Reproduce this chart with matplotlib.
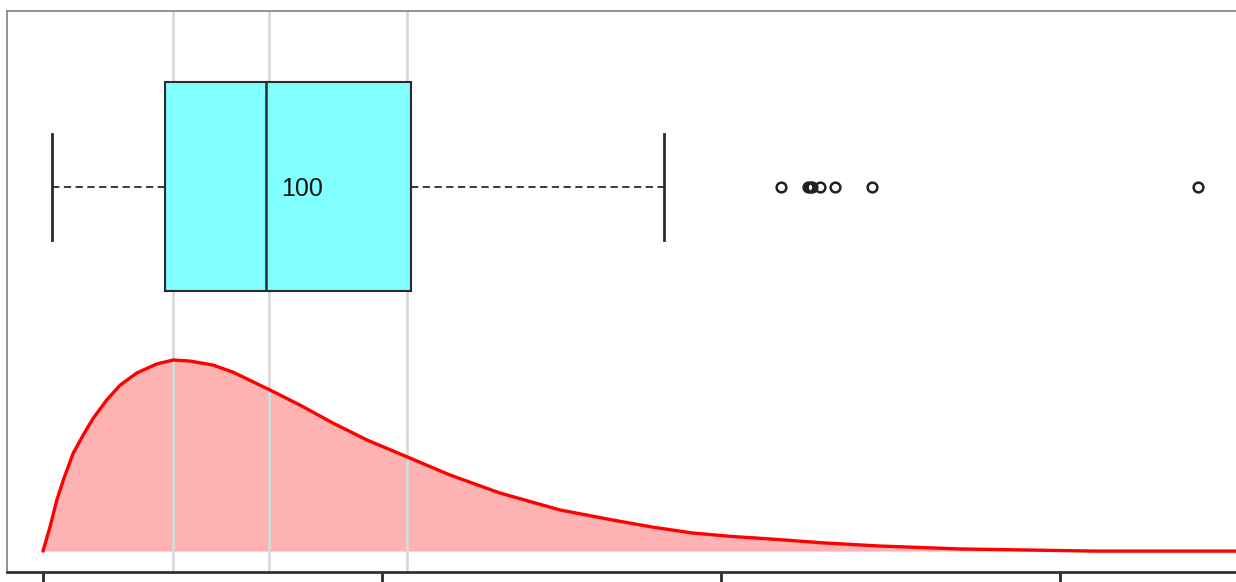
import matplotlib
matplotlib.use("Agg")
import matplotlib.pyplot as plt
import numpy as np

# ---- data ----
box_q1 = 54.0
box_median = 98.5
box_q3 = 163.0
whisker_low = 4.0
whisker_high = 275.0
outliers = [326.5, 338.5, 339.5, 340.5, 344.0, 350.5, 367.0, 511.0]
median_label = "100"

ref_lines = [57.5, 100.0, 161.0]

dens_x = [0, 3.1, 6.1, 9.0, 13.4, 17.8, 22.3, 28.2, 34.1, 41.5, 50.3, 57.7, 65.0,
          75.2, 84.1, 100.4, 113.7, 128.3, 143.4, 159.3, 180.1, 202.2, 228.8,
          252.2, 270.0, 287.6, 305.0, 323.0, 345.0, 370.4, 405.8, 464.6, 528.0]
dens_y = [0.0, 0.91, 1.92, 2.68, 3.70, 4.38, 5.02, 5.70, 6.26, 6.72, 7.06, 7.21,
          7.17, 7.02, 6.75, 6.08, 5.51, 4.83, 4.19, 3.62, 2.87, 2.19, 1.55, 1.17,
          0.90, 0.68, 0.55, 0.45, 0.31, 0.19, 0.08, 0.0, 0.0]  # density x 1e-3

xticks = [0, 150, 300, 450]

# ---- layout ----
W, H = 1236, 582
fig = plt.figure(figsize=(W / 100, H / 100), dpi=100)
ax = fig.add_axes([7 / W, 10 / H, 1243 / W, 561 / H])
ax.set_xlim(-15.93, 534.1)
ax.set_ylim(-0.79, 20.38)

# density fill
ax.fill_between(dens_x, 0, dens_y, color="red", alpha=0.3, lw=0, zorder=2)

# reference vertical lines (over the fill, under curve and box)
for v in ref_lines:
    ax.axvline(v, color="#d9d9d9", lw=2, zorder=2.5)

ax.plot(dens_x, dens_y, color="red", lw=2.4, zorder=3,
        solid_capstyle="round", solid_joinstyle="round")

# boxplot built from stats
center = 13.74
stats = [dict(med=box_median, q1=box_q1, q3=box_q3, whislo=whisker_low,
              whishi=whisker_high, fliers=outliers)]
bp = ax.bxp(stats, positions=[center], widths=7.89, vert=False, patch_artist=True,
            capwidths=4.0, manage_ticks=False,
            boxprops=dict(facecolor="#80ffff", edgecolor="#2b2b2b", linewidth=1.5),
            medianprops=dict(color="#2b2b2b", linewidth=1.8),
            whiskerprops=dict(color="#2b2b2b", linewidth=1.3, linestyle=(0, (4, 2.5))),
            capprops=dict(color="#2b2b2b", linewidth=2.0),
            flierprops=dict(marker="o", markerfacecolor="none", markeredgecolor="#222222",
                            markersize=7, markeredgewidth=1.8))
for b in bp["boxes"]:
    b.set_zorder(4)
for key in ["medians", "whiskers", "caps", "fliers"]:
    for art in bp[key]:
        art.set_zorder(5)

ax.text(box_median + 7, center - 0.08, median_label, fontsize=18,
        family=["Liberation Sans", "DejaVu Sans"], va="center", ha="left",
        color="#111111", zorder=6)

# axes styling
ax.set_yticks([])
ax.set_xticks(xticks)
ax.tick_params(axis="x", length=10, width=2, color="#2b2b2b", labelbottom=False)
for s in ["left", "top", "right"]:
    ax.spines[s].set_color("#8a8a8a")
    ax.spines[s].set_linewidth(1.3)
ax.spines["bottom"].set_color("#333333")
ax.spines["bottom"].set_linewidth(2.0)

fig.savefig("out.png", dpi=100, facecolor="white")
